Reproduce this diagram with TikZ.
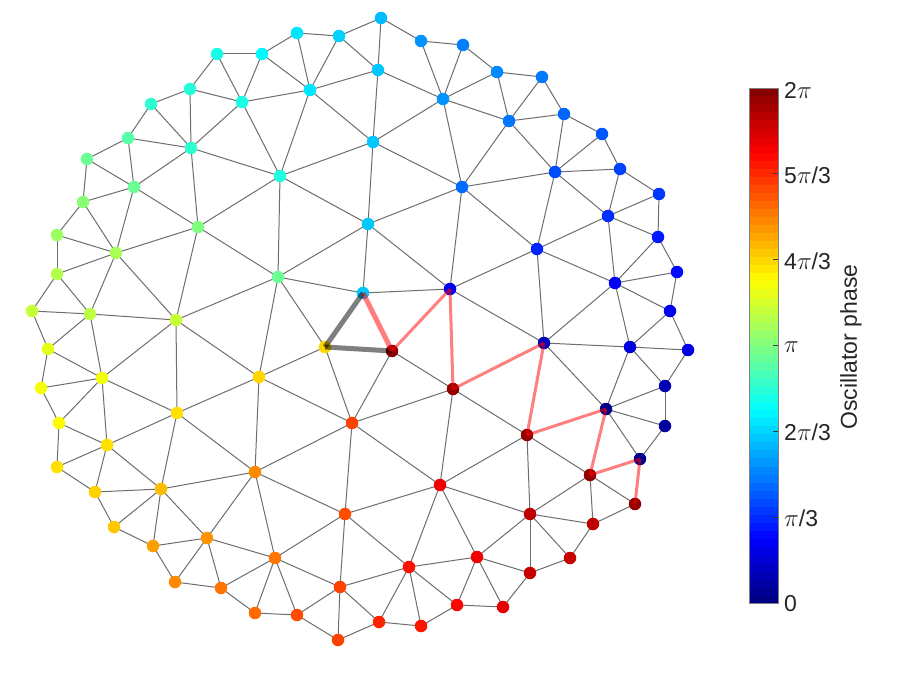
\documentclass[tikz,border=0pt]{standalone}
\usepackage{fontspec}
\setmainfont{Liberation Sans}
\pgfdeclarelayer{bg}
\pgfsetlayers{bg,main}
\definecolor{edgegray}{RGB}{110,110,110}
\definecolor{tickgray}{RGB}{60,60,60}
\definecolor{labgray}{RGB}{38,38,38}
\newcommand{\jetcolor}[2]{%
  \pgfmathsetmacro\jr{min(1,max(0,1.5-abs(4*#2-3)))}%
  \pgfmathsetmacro\jg{min(1,max(0,1.5-abs(4*#2-2)))}%
  \pgfmathsetmacro\jb{min(1,max(0,1.5-abs(4*#2-1)))}%
  \definecolor{#1}{rgb}{\jr,\jg,\jb}}
\tikzset{
  dot/.style={circle, inner sep=0pt, minimum size=12.5pt, draw=none},
  edge/.style={draw=edgegray, line width=1pt},
  redlink/.style={draw=red, draw opacity=0.5, line width=3pt},
  redthick/.style={draw=red, draw opacity=0.5, line width=5pt},
  graythick/.style={draw=black, draw opacity=0.5, line width=5pt},
  ticklab/.style={anchor=west, text=labgray, font=\fontsize{23}{26}\selectfont, inner sep=0pt},
}
\begin{document}
\begin{tikzpicture}[x=1pt,y=-1pt]
\useasboundingbox (0,0) rectangle (913,685);
% nodes
\foreach \n/\x/\y/\t in {
a01/381/18/0.31, a02/297/33/0.35, a03/339/36/0.33, a04/421/41/0.27, a05/463/45/0.25,
a06/217/54/0.40, a07/262/54/0.37, a08/378/70/0.32, a09/497/72/0.26, a10/542/77/0.245,
a11/190/89/0.41, a12/310/90/0.35, a13/443/99/0.27, a14/151/104/0.42, a15/242/102/0.40,
a16/509/121/0.24, a17/564/114/0.225, a18/128/138/0.46, a19/191/148/0.42, a20/373/142/0.32,
a21/602/134/0.21, a22/87/159/0.48, a23/280/176/0.41, a24/462/187/0.23, a25/555/172/0.20,
a26/620/169/0.19, a27/134/187/0.48, a28/659/194/0.18, a29/83/202/0.51, a30/608/216/0.17,
a31/198/227/0.50, a32/368/224/0.32, a33/537/249/0.16, a34/658/237/0.15, a35/57/235/0.53,
a36/116/253/0.54, a37/57/274/0.55, a38/677/272/0.135, a39/615/283/0.12, a40/278/277/0.48,
a41/450/289/0.11, a42/363/293/0.32, a43/32/311/0.57, a44/90/314/0.56, a45/176/320/0.57,
a46/670/311/0.11, a47/544/343/0.06, a48/630/347/0.09, a49/688/350/0.10, a50/325/347/0.665,
a51/392/351/0.99, a52/48/349/0.60, a53/102/378/0.61, a54/259/377/0.665, a55/41/388/0.615,
a56/177/413/0.655, a57/453/389/0.98, a58/665/386/0.05, a59/606/409/0.01, a60/665/426/0.03,
a61/59/423/0.63, a62/107/445/0.655, a63/352/423/0.81, a64/527/435/0.98, a65/640/459/0.01,
a66/57/467/0.655, a67/255/472/0.74, a68/161/489/0.69, a69/95/492/0.67, a70/440/485/0.89,
a71/590/475/0.98, a72/635/504/0.98, a73/345/514/0.80, a74/530/514/0.94, a75/593/524/0.94,
a76/114/527/0.68, a77/207/538/0.73, a78/153/546/0.72, a79/275/558/0.76, a80/570/558/0.93,
a81/477/557/0.89, a82/409/567/0.86, a83/530/573/0.93, a84/175/582/0.74, a85/221/588/0.76,
a86/340/587/0.81, a87/255/613/0.77, a88/297/615/0.80, a89/457/605/0.87, a90/503/607/0.90,
a91/379/622/0.84, a92/421/626/0.855, a93/338/640/0.81}
{
  \jetcolor{nc}{\t}
  \node[dot, fill=nc] (\n) at (\x,\y) {};
}
% ordinary edges (under the nodes)
\begin{pgfonlayer}{bg}
\fill[white] (0,0) rectangle (913,685);
\foreach \p/\q in {
a01/a03, a01/a04, a01/a08, a02/a03, a02/a07, a02/a12, a03/a08, a03/a12,
a04/a05, a04/a13, a05/a09, a05/a13, a06/a07, a06/a11, a06/a15,
a07/a12, a07/a15, a08/a12, a08/a13, a08/a20, a09/a10, a09/a13, a09/a16,
a10/a16, a10/a17, a11/a14, a11/a15, a11/a19, a12/a15, a12/a20, a12/a23,
a13/a16, a13/a20, a13/a24, a14/a18, a14/a19, a15/a19, a15/a23,
a16/a17, a16/a24, a16/a25, a17/a21, a17/a25, a18/a19, a18/a22, a18/a27,
a19/a23, a19/a27, a19/a31, a20/a23, a20/a24, a20/a32, a21/a25, a21/a26,
a22/a27, a22/a29, a23/a31, a23/a32, a23/a40, a24/a25, a24/a32, a24/a33, a24/a41,
a25/a26, a25/a30, a25/a33, a26/a28, a26/a30, a27/a29, a27/a31, a27/a36,
a28/a30, a28/a34, a29/a35, a29/a36, a30/a33, a30/a34, a30/a39,
a31/a36, a31/a40, a31/a45, a32/a40, a32/a41, a32/a42, a33/a39, a33/a41, a33/a47,
a34/a38, a34/a39, a35/a36, a35/a37, a36/a37, a36/a44, a36/a45, a37/a43, a37/a44,
a38/a39, a38/a46, a39/a46, a39/a47, a39/a48, a40/a42, a40/a45, a40/a50, a40/a54,
a41/a42, a41/a47, a43/a44, a43/a52, a44/a45, a44/a52, a44/a53,
a45/a53, a45/a54, a45/a56, a46/a48, a46/a49, a47/a48, a47/a59,
a48/a49, a48/a58, a48/a59, a49/a58, a50/a54, a50/a63, a51/a57, a51/a63,
a52/a53, a52/a55, a53/a55, a53/a56, a53/a61, a53/a62, a54/a56, a54/a63, a54/a67,
a55/a61, a56/a62, a56/a67, a56/a68, a57/a63, a57/a64, a57/a70, a58/a59, a58/a60,
a59/a60, a59/a65, a60/a65, a61/a62, a61/a66, a62/a66, a62/a68, a62/a69,
a63/a67, a63/a70, a63/a73, a64/a70, a64/a71, a64/a74, a66/a69,
a67/a68, a67/a73, a67/a77, a67/a79, a68/a69, a68/a76, a68/a77, a68/a78, a69/a76,
a70/a73, a70/a74, a70/a81, a70/a82, a71/a72, a71/a74, a71/a75, a72/a75,
a73/a79, a73/a82, a73/a86, a74/a75, a74/a80, a74/a81, a74/a83, a75/a80, a76/a78,
a77/a78, a77/a79, a77/a84, a77/a85, a78/a84, a79/a85, a79/a86, a79/a87, a79/a88,
a80/a83, a81/a82, a81/a83, a81/a89, a81/a90, a82/a86, a82/a89, a82/a91, a82/a92,
a83/a90, a84/a85, a85/a87, a86/a88, a86/a91, a86/a93, a87/a88, a88/a93,
a89/a90, a89/a92, a91/a92, a91/a93}
{ \draw[edge] (\p.center) -- (\q.center); }
\end{pgfonlayer}
% highlighted links (over the nodes)
\draw[graythick] (a42.center) -- (a50.center);
\draw[graythick] (a50.center) -- (a51.center);
\draw[redthick] (a42.center) -- (a51.center);
\foreach \p/\q in {a51/a41, a41/a57, a57/a47, a47/a64, a64/a59, a59/a71, a71/a65, a65/a72}
{ \draw[redlink] (\p.center) -- (\q.center); }
% colour bar
\foreach \i in {0,...,63} {
  \pgfmathsetmacro\tt{(\i+0.5)/64}
  \jetcolor{cbc}{\tt}
  \fill[cbc] (749,{603-\i*8.047+0.3}) rectangle (778,{603-(\i+1)*8.047});
}
\draw[draw=gray, line width=0.5pt] (749,88) rectangle (778,603);
\foreach \k in {1,...,5} { \draw[tickgray, line width=0.8pt] (773,{603-\k*85.83}) -- (778,{603-\k*85.83}); }
\node[ticklab] (l0) at (784,604) {0};
\node[ticklab] (l1) at (784,518) {$\pi$/3};
\node[ticklab] (l2) at (784,432) {2$\pi$/3};
\node[ticklab] (l3) at (784,347) {$\pi$};
\node[ticklab] (l4) at (784,261) {4$\pi$/3};
\node[ticklab] (l5) at (784,175) {5$\pi$/3};
\node[ticklab] (l6) at (784,90) {2$\pi$};
\node[rotate=90, text=labgray, font=\fontsize{23}{26}\selectfont] (lab) at (851,347) {Oscillator phase};
\end{tikzpicture}
\end{document}
